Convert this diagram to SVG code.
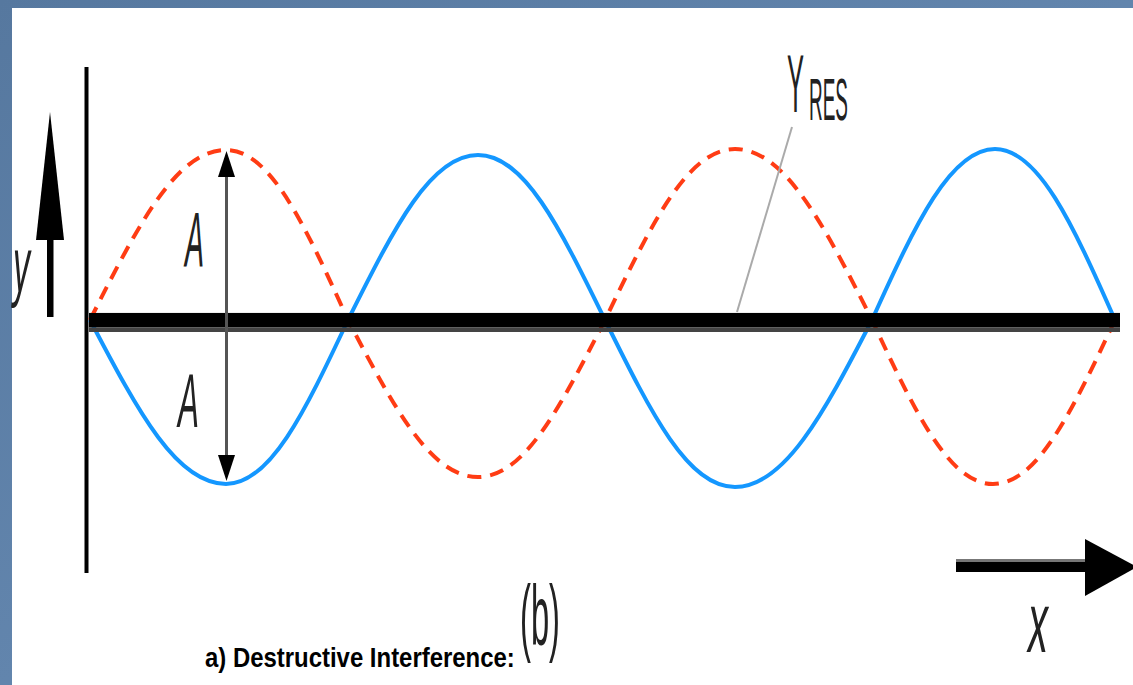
<svg xmlns="http://www.w3.org/2000/svg" width="1133" height="685" viewBox="0 0 1133 685">
<style>
.lbl{font-family:"Liberation Sans",Arial,sans-serif;fill:#222}
.it{font-style:italic}
.wave{fill:none;stroke-width:4;stroke-linecap:butt}
</style>
<defs>
<linearGradient id="bg" x1="0" y1="0" x2="1" y2="1">
<stop offset="0" stop-color="#56789f"/>
<stop offset="0.5" stop-color="#6285ad"/>
<stop offset="1" stop-color="#57799f"/>
</linearGradient>
</defs>
<rect x="0" y="0" width="1133" height="685" fill="url(#bg)"/>
<rect x="12" y="8" width="1121" height="677" fill="#ffffff"/>

<g id="axes">
<line x1="86.5" y1="67" x2="86.5" y2="573" stroke="#000" stroke-width="4"/>
<rect x="89" y="312" width="1031" height="1.5" fill="#eeeeee"/>
</g>

<g id="red-wave">
<path class="wave" stroke="#ff3c14" stroke-dasharray="14 9" d="M90,320 C139,223 177,150 226,150 C270,150 304,223 348,320 C395,409.5 431,477 478,477 C524,477 559,409.5 605,320 C652,222.5 688,149 735,149 C784,149 823,222.5 872,320 C915.6,413.5 949.4,484 993,484 C1037,484 1071,413.5 1115,320"/>
</g>

<g id="blue-wave">
<path class="wave" stroke="#1497ff" d="M90,320 C139,413.5 177,484 226,484 C270,484 304,413.5 348,320 C395,226 431,155 478,155 C524,155 559,226 605,320 C652,415 688,487 735,487 C784,487 823,415 872,320 C916,222.5 951,149 995,149 C1038,149 1072,222.5 1115,320"/>
</g>

<g id="resultant">
<rect x="89" y="313" width="1031" height="14.5" fill="#000"/>
<rect x="89" y="327.5" width="1031" height="4.5" fill="#444"/>
</g>

<g id="connectors">
<line x1="792" y1="127" x2="737" y2="312" stroke="#aaaaaa" stroke-width="2"/>
<line x1="226.5" y1="170" x2="226.5" y2="462" stroke="#555" stroke-width="3"/>
<polygon points="226.5,151 218,177 235,177" fill="#000"/>
<polygon points="226.5,481 218,455 235,455" fill="#000"/>
</g>

<g id="y-axis-arrow">
<polygon points="50,112 36,240 64,240" fill="#000"/>
<rect x="47" y="236" width="6.5" height="81" fill="#000"/>
</g>

<g id="x-axis-arrow">
<rect x="956" y="559" width="134" height="3" fill="#777"/>
<rect x="956" y="562" width="134" height="10" fill="#000"/>
<polygon points="1085,539 1137,567 1085,596" fill="#000"/>
</g>

<g id="labels">
<text class="lbl it" transform="translate(13,292) scale(0.44,1)" font-size="77">y</text>
<text class="lbl it" transform="translate(185,267) scale(0.37,1)" font-size="77">A</text>
<text class="lbl it" transform="translate(178,427) scale(0.414,1)" font-size="76">A</text>
<text class="lbl" transform="translate(787,112) scale(0.311,1)" font-size="82">Y</text>
<text class="lbl" transform="translate(809,120) scale(0.316,1)" font-size="60">RES</text>
<text class="lbl it" transform="translate(1028,652) scale(0.47,1)" font-size="85">x</text>
<text class="lbl" transform="translate(520,645) scale(0.385,1)" font-size="85">(b)</text>
<text transform="translate(205,667) scale(0.855,1)" font-family="'Liberation Sans',Arial,sans-serif" font-weight="bold" font-size="28" fill="#000">a) Destructive Interference:</text>
</g>
</svg>
